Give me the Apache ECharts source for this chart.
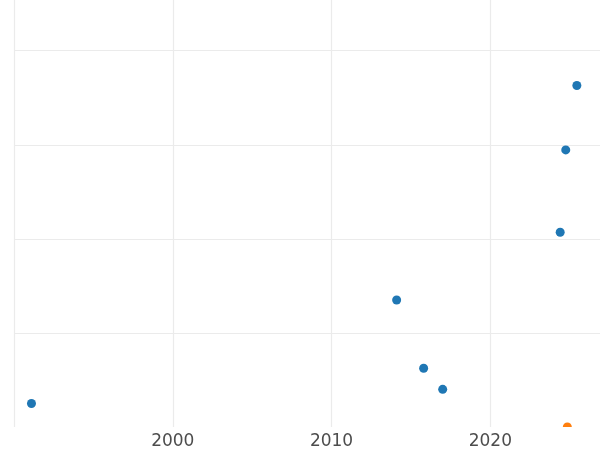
<!DOCTYPE html>
<html>
<head>
<meta charset="utf-8">
<script src="https://cdn.jsdelivr.net/npm/echarts@6/dist/echarts.min.js"></script>
<style>
html,body{margin:0;padding:0;background:#fff}
#wrap{position:relative;width:600px;height:450px;overflow:hidden}
#c{position:absolute;left:-50px;top:-60px;width:700px;height:510px}
</style>
</head>
<body>
<div id="wrap"><div id="c"></div></div>
<script>
var seriesAYears = [1991.1, 2014.1, 2015.8, 2017.0, 2024.4, 2024.75, 2025.45];
var seriesAValues = [0.25, 1.35, 0.625, 0.40, 2.07, 2.945, 3.63];
var seriesBYears = [2024.85];
var seriesBValues = [0.0];
var xTicks = [1990, 2000, 2010, 2020, 2030];

function pairs(xs, ys) { return xs.map(function (x, i) { return [x, ys[i]]; }); }

var chart = echarts.init(document.getElementById('c'), null, { renderer: 'canvas' });
chart.setOption({
  animation: false,
  backgroundColor: '#ffffff',
  grid: { left: 64, top: 16.6, width: 635.1, height: 470.5, containLabel: false },
  xAxis: {
    type: 'value', min: xTicks[0], max: xTicks[xTicks.length - 1], interval: 10, z: 10,
    axisLine: { show: false }, axisTick: { show: false },
    axisLabel: {
      showMinLabel: false, showMaxLabel: false, margin: 6,
      color: '#4d4d4d', fontSize: 17, fontFamily: 'DejaVu Sans',
      formatter: function (v) { return String(v); }
    },
    splitLine: { show: true, lineStyle: { color: '#ebebeb', width: 1.2 } }
  },
  yAxis: {
    type: 'value', min: 0, max: 5, interval: 1,
    axisLine: { show: false }, axisTick: { show: false }, axisLabel: { show: false },
    splitLine: { show: true, showMinLine: false, lineStyle: { color: '#ebebeb', width: 1.2 } }
  },
  graphic: [{
    type: 'rect', z: 5, silent: true,
    shape: { x: 0, y: 487.1, width: 700, height: 30 },
    style: { fill: '#ffffff' }
  }],
  series: [
    { type: 'scatter', z: 2, symbolSize: 9, itemStyle: { color: '#1f77b4', opacity: 1 }, data: pairs(seriesAYears, seriesAValues) },
    { type: 'scatter', z: 2, symbolSize: 9, itemStyle: { color: '#ff7f0e', opacity: 1 }, data: pairs(seriesBYears, seriesBValues) }
  ]
});
</script>
</body>
</html>
